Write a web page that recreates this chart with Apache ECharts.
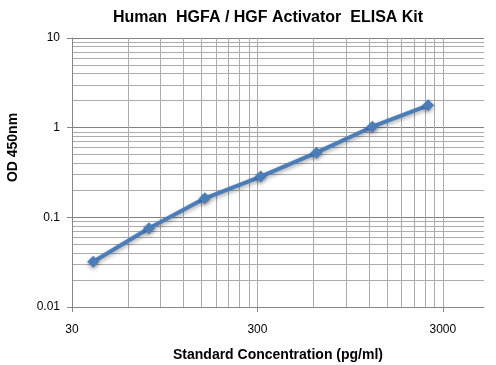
<!DOCTYPE html>
<html><head><meta charset="utf-8">
<script src="https://cdn.jsdelivr.net/npm/echarts@6/dist/echarts.min.js"></script>
<style>html,body{margin:0;padding:0;background:#fff}#c{width:496px;height:365px}</style>
</head><body><div id="c"></div>
<script>
const concentrations = [39.06, 78.125, 156.25, 312.5, 625, 1250, 2500];
const od450 = [0.032, 0.0755, 0.163, 0.285, 0.526, 1.025, 1.776];
const xTickLabels = [30, 300, 3000];
const yTickLabels = [0.01, 0.1, 1, 10];
const xGridValues = [30, 60, 90, 120, 150, 180, 210, 240, 270, 300, 600, 900, 1200, 1500, 1800, 2100, 2400, 2700, 3000];
const yGridValues = [0.01, 0.02, 0.03, 0.04, 0.05, 0.06, 0.07, 0.08, 0.09, 0.1, 0.2, 0.3, 0.4, 0.5, 0.6, 0.7, 0.8, 0.9, 1, 2, 3, 4, 5, 6, 7, 8, 9, 10];

const FONT = '"Liberation Sans", Arial, sans-serif';
const chart = echarts.init(document.getElementById('c'));
const fmt = v => String(+v.toPrecision(6));
chart.setOption({
  animation: false,
  title: {
    text: 'Human  HGFA / HGF Activator  ELISA Kit',
    left: 263, top: 5, textAlign: 'center',
    textStyle: {fontFamily: FONT, fontSize: 16, fontWeight: 'bold', color: '#000'}
  },
  grid: {left: 72, right: 12, top: 38, bottom: 58, outerBoundsMode: 'none', containLabel: false},
  xAxis: [{
    type: 'log', logBase: 10, min: 30, max: 5000,
    name: 'Standard Concentration (pg/ml)', nameLocation: 'middle', nameGap: 41,
    nameTextStyle: {fontFamily: FONT, fontSize: 14, fontWeight: 'bold', color: '#000'},
    axisLine: {show: true, lineStyle: {color: '#868686', width: 1}},
    axisTick: {show: false, customValues: xGridValues},
    axisLabel: {customValues: xTickLabels, formatter: fmt, margin: 17, fontFamily: FONT, fontSize: 12, color: '#000'},
    splitLine: {show: true, lineStyle: {color: '#ababab', width: 1}}
  }, {
    type: 'log', logBase: 10, min: 30, max: 5000, position: 'bottom',
    axisLine: {show: false},
    axisTick: {show: true, customValues: xTickLabels, length: 5, lineStyle: {color: '#868686'}},
    axisLabel: {show: false},
    splitLine: {show: false}
  }],
  yAxis: [{
    type: 'log', logBase: 10, min: 0.01, max: 10,
    name: 'OD 450nm', nameLocation: 'middle', nameGap: 52,
    nameTextStyle: {fontFamily: FONT, fontSize: 14, fontWeight: 'bold', color: '#000', padding: [0, 0, 0, 50]},
    axisLine: {show: true, lineStyle: {color: '#868686', width: 1}},
    axisTick: {show: false, customValues: yGridValues},
    axisLabel: {customValues: yTickLabels, formatter: fmt, margin: 12, fontFamily: FONT, fontSize: 12, color: '#000'},
    splitLine: {show: true, lineStyle: {color: '#ababab', width: 1}}
  }, {
    type: 'log', logBase: 10, min: 0.01, max: 10, position: 'left',
    axisLine: {show: false},
    axisTick: {show: true, customValues: yTickLabels, length: 5, lineStyle: {color: '#868686'}},
    axisLabel: {show: false},
    splitLine: {show: true, lineStyle: {color: '#808080', width: 1}}
  }],
  series: [{
    type: 'line',
    data: concentrations.map((c, i) => [c, od450[i]]),
    xAxisIndex: 0, yAxisIndex: 0,
    symbol: 'diamond', symbolSize: 12,
    lineStyle: {color: '#4A7EBB', width: 4, shadowBlur: 4, shadowColor: 'rgba(0,0,0,0.35)', shadowOffsetY: 2},
    itemStyle: {color: '#4A7EBB', shadowBlur: 4, shadowColor: 'rgba(0,0,0,0.35)', shadowOffsetY: 2}
  }]
});
</script></body></html>
